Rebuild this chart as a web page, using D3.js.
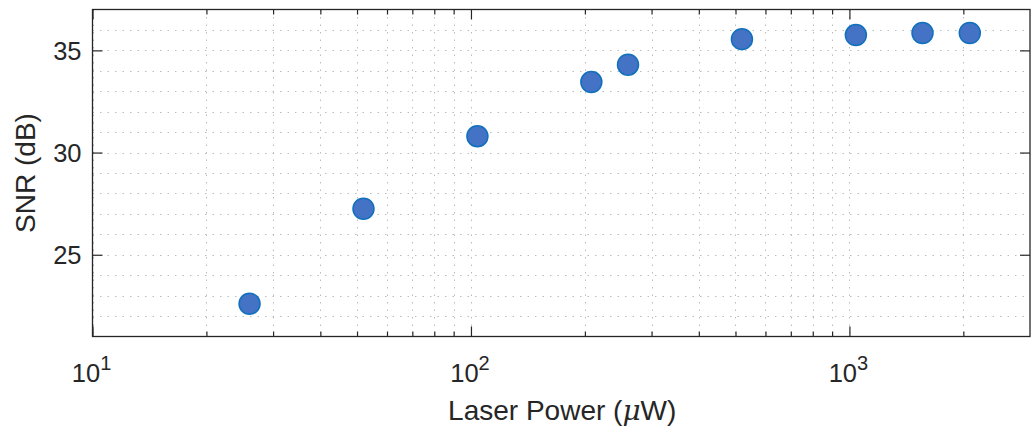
<!DOCTYPE html>
<html>
<head>
<meta charset="utf-8">
<script src="https://cdn.jsdelivr.net/npm/d3@7"></script>
<style>
  html, body { margin: 0; padding: 0; background: #fff; }
  svg { display: block; font-family: "Liberation Sans", Arial, Helvetica, sans-serif; }
</style>
</head>
<body>
<svg id="chart" width="1031" height="427"></svg>
<script>
// Measured SNR versus laser power
const laserPower = [26, 52, 104, 208, 260, 520, 1040, 1560, 2080];   // µW
const snrDb      = [22.6, 27.25, 30.8, 33.45, 34.3, 35.55, 35.75, 35.85, 35.85];

const xDomain = [10, 3000];
const yDomain = [21, 37];
const xTickExponents = [1, 2, 3];        // labels 10^1, 10^2, 10^3
const yTicks = [25, 30, 35];

const plot = { left: 92.5, right: 1030, top: 9.5, bottom: 336.5 };
const ink = "#262626";
const gridColor = "#bcbcbc";

const svg = d3.select("#chart");

const x = d3.scaleLog().domain(xDomain).range([plot.left, plot.right]);
const y = d3.scaleLinear().domain(yDomain).range([plot.bottom, plot.top]);

// minor positions on the log axis: 2..9 × each decade inside the domain
const xMinor = [];
for (let d = 10; d <= 1000; d *= 10) {
  for (let m = 2; m <= 9; m++) {
    const v = m * d;
    if (v > xDomain[0] && v < xDomain[1]) xMinor.push(v);
  }
}
const xMajor = xTickExponents.map(e => Math.pow(10, e));
const yGrid = d3.range(yDomain[0] + 1, yDomain[1]);

// dotted grid
const grid = svg.append("g").attr("stroke", gridColor).attr("stroke-width", 1)
  .attr("stroke-dasharray", "1.5,6");
grid.selectAll("line.gx").data(xMajor.concat(xMinor)).join("line")
  .attr("class", "gx")
  .attr("x1", d => Math.round(x(d)) + 0.5).attr("x2", d => Math.round(x(d)) + 0.5)
  .attr("y1", plot.top).attr("y2", plot.bottom);
grid.selectAll("line.gy").data(yGrid).join("line")
  .attr("class", "gy")
  .attr("x1", plot.left).attr("x2", plot.right)
  .attr("y1", d => Math.round(y(d)) + 0.5).attr("y2", d => Math.round(y(d)) + 0.5);

// axes: ticks point inward, on all four sides
function styleAxis(g) {
  g.select(".domain").remove();
  g.selectAll(".tick line").attr("stroke", ink).attr("stroke-width", 1.2);
  g.selectAll(".tick text").remove();
}
svg.append("g").attr("transform", `translate(0,${plot.bottom})`)
  .call(d3.axisBottom(x).tickValues(xMajor).tickSize(-10)).call(styleAxis);
svg.append("g").attr("transform", `translate(0,${plot.bottom})`)
  .call(d3.axisBottom(x).tickValues(xMinor).tickSize(-5)).call(styleAxis);
svg.append("g").attr("transform", `translate(0,${plot.top})`)
  .call(d3.axisTop(x).tickValues(xMajor).tickSize(-10)).call(styleAxis);
svg.append("g").attr("transform", `translate(0,${plot.top})`)
  .call(d3.axisTop(x).tickValues(xMinor).tickSize(-5)).call(styleAxis);
svg.append("g").attr("transform", `translate(${plot.left},0)`)
  .call(d3.axisLeft(y).tickValues(yTicks).tickSize(-10)).call(styleAxis);
svg.append("g").attr("transform", `translate(${plot.right},0)`)
  .call(d3.axisRight(y).tickValues(yTicks).tickSize(-10)).call(styleAxis);

// box
svg.append("rect")
  .attr("x", plot.left).attr("y", plot.top)
  .attr("width", plot.right - plot.left).attr("height", plot.bottom - plot.top)
  .attr("fill", "none").attr("stroke", ink).attr("stroke-width", 1.3);

// y tick labels
svg.append("g").selectAll("text").data(yTicks).join("text")
  .attr("x", plot.left - 11)
  .attr("y", d => y(d))
  .attr("dy", "0.36em")
  .attr("text-anchor", "end")
  .attr("font-size", 25.5)
  .attr("fill", ink)
  .text(d => d);

// x tick labels as powers of ten
const xl = svg.append("g").selectAll("text").data(xTickExponents).join("text")
  .attr("x", d => x(Math.pow(10, d)) - 1)
  .attr("y", 382)
  .attr("text-anchor", "middle")
  .attr("font-size", 25.5)
  .attr("fill", ink);
xl.append("tspan").text("10");
xl.append("tspan").attr("font-size", 20).attr("dy", -12).text(d => d);

// axis titles
svg.append("text")
  .attr("x", (plot.left + plot.right) / 2 + 1)
  .attr("y", 420)
  .attr("text-anchor", "middle")
  .attr("font-size", 28)
  .attr("fill", ink)
  .html('Laser Power (<tspan font-family="DejaVu Serif, serif" font-style="italic">μ</tspan>W)');

svg.append("text")
  .attr("transform", `translate(35,${(plot.top + plot.bottom) / 2}) rotate(-90)`)
  .attr("text-anchor", "middle")
  .attr("font-size", 28)
  .attr("fill", ink)
  .text("SNR (dB)");

// data points
svg.append("g").selectAll("circle").data(laserPower).join("circle")
  .attr("cx", d => x(d))
  .attr("cy", (d, i) => y(snrDb[i]))
  .attr("r", 10.5)
  .attr("fill", "#4472C4")
  .attr("stroke", "#1170BE")
  .attr("stroke-width", 1.5);
</script>
</body>
</html>
